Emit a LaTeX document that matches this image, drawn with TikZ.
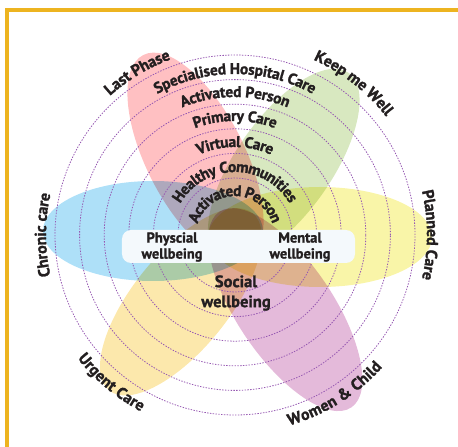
\documentclass[tikz,border=0pt]{standalone}
\usepackage{fontspec}
\setmainfont{PT Sans}[BoldFeatures={FakeBold=1.4}]
\usetikzlibrary{decorations.text}

\definecolor{framegold}{RGB}{237,180,32}
\definecolor{ink}{RGB}{35,31,32}
\definecolor{ringline}{RGB}{150,88,178}
\definecolor{pinkpetal}{RGB}{255,192,194}
\definecolor{greenpetal}{RGB}{216,232,192}
\definecolor{bluepetal}{RGB}{174,224,248}
\definecolor{yellowpetal}{RGB}{249,245,168}
\definecolor{orangepetal}{RGB}{252,232,172}
\definecolor{purplepetal}{RGB}{228,186,218}
\definecolor{barwhite}{RGB}{244,249,252}

\newcommand{\ringfont}{\fontsize{15.5}{18}\selectfont\bfseries}
\newcommand{\outerfont}{\fontsize{16}{18}\selectfont\bfseries}

\begin{document}
\begin{tikzpicture}[x=1pt,y=1pt,
	ring/.style={draw=ringline, line width=0.8pt, dash pattern=on 1.4pt off 1.4pt},
	arclabel/.style={decorate, decoration={text along path, text align={align=center}, text color=ink, raise=-5pt, text={#1}}},
	wellbeing/.style={align=center, text=ink, inner sep=0pt, font=\fontsize{14.5}{16}\selectfont\bfseries}]

	\useasboundingbox (-235,-212) rectangle (223,235);

	% frame
	\draw[framegold, line width=4pt] (-228,-212) -- (-228,225) -- (223,225);

	% petals
	\begin{scope}[blend mode=multiply]
	\fill[pinkpetal, rotate=117] (87,0) ellipse[x radius=115, y radius=49];
	\fill[greenpetal, rotate=55] (85,0) ellipse[x radius=113, y radius=48];
	\fill[bluepetal] (-82,4) ellipse[x radius=110, y radius=50];
	\fill[yellowpetal] (85,-2) ellipse[x radius=112, y radius=50];
	\fill[orangepetal, rotate=231] (86,0) ellipse[x radius=114, y radius=48];
	\fill[purplepetal, rotate=304] (90,0) ellipse[x radius=118, y radius=48];
	\end{scope}

	% rings
	\foreach \k in {0,...,5}
		\draw[ring] (0,0) circle[radius=57+24.6*\k];

	% wellbeing bar
	\fill[barwhite, rounded corners=9pt] (-113,5) rectangle (120,-28);
	\node[wellbeing] (physical) at (-63,-12) {Physcial\\wellbeing};
	\node[wellbeing] (mental) at (65,-12) {Mental\\wellbeing};
	\node[wellbeing, font=\fontsize{16.5}{20}\selectfont\bfseries] (social) at (1,-58) {Social\\wellbeing};

	% ring labels
	\path[arclabel={|\ringfont|Specialised Hospital Care}] (170:166) arc[start angle=170, end angle=10, radius=166];
	\path[arclabel={|\ringfont|Activated Person}] (170:143) arc[start angle=170, end angle=10, radius=143];
	\path[arclabel={|\ringfont|Primary Care}] (170:119) arc[start angle=170, end angle=10, radius=119];
	\path[arclabel={|\ringfont|Virtual Care}] (170:93) arc[start angle=170, end angle=10, radius=93];
	\path[arclabel={|\ringfont|Healthy Communities}] (180:68) arc[start angle=180, end angle=0, radius=68];
	\path[arclabel={|\ringfont|Activated Person}] (200:44) arc[start angle=200, end angle=-20, radius=44];

	% outer labels
	\path[arclabel={|\outerfont|Last Phase}] (161:192) arc[start angle=161, end angle=81, radius=192];
	\path[arclabel={|\outerfont|Keep me Well}] (92:197) arc[start angle=92, end angle=12, radius=197];
	\path[arclabel={|\outerfont|Planned Care}] (40:197) arc[start angle=40, end angle=-40, radius=197];
	\path[arclabel={|\outerfont|Chronic care}] (220:194) arc[start angle=220, end angle=140, radius=194];
	\path[arclabel={|\outerfont|Urgent Care}] (190:195) arc[start angle=190, end angle=270, radius=195];
	\path[arclabel={|\outerfont|Women {\&} Child}] (262:193) arc[start angle=262, end angle=342, radius=193];

\end{tikzpicture}
\end{document}
